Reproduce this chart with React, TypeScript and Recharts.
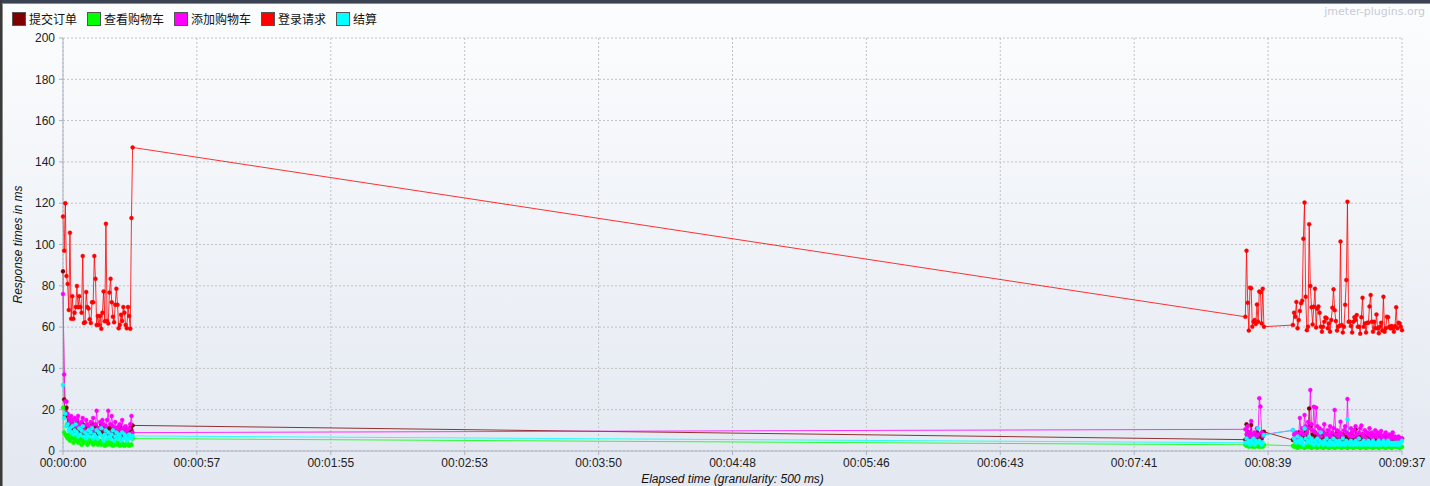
import { CartesianGrid, Line, LineChart, XAxis, YAxis } from 'recharts'

// elapsed-time buckets (ms): start of each run of samples, 500 ms granularity
const GRANULARITY_MS = 500
const clusterStarts = [0, 509500, 530000]

const xTicks = [0, 57700, 115400, 173100, 230800, 288500, 346200, 403900, 461600, 519300, 577000]
const yTicks = [0, 20, 40, 60, 80, 100, 120, 140, 160, 180, 200]

// 登录请求
const loginA = [
  113.5, 97, 120, 84.7, 80.9, 68.3, 105.7, 64, 75, 64,
  67, 69.7, 79.9, 69.6, 75, 69.7, 67, 94.4, 62, 62.3,
  77, 69.7, 69, 63.8, 62, 72, 72, 94.4, 83.4, 61,
  65.4, 61, 65.4, 59.2, 67, 77.3, 62.8, 110, 63, 61.8,
  76.7, 83.4, 72, 65, 62.3, 70.8, 78.6, 70.8, 59.4, 61,
  66, 63, 69.7, 67, 61, 59.4, 69.7, 65.4, 59.2, 112.8, 147,
]
const loginB = [65, 97, 71.8, 58.3, 79.1, 78.8, 60.2, 62.6, 63.4, 61.5, 70.9, 62.6, 77.2, 76.9, 61.8, 78.6, 60.2]
const loginC = [
  61, 67, 65, 72.2, 59.4, 63.4, 67.8, 71.5, 72.8, 102.8,
  120.3, 74.7, 58.5, 60.2, 109.8, 79.9, 69.6, 61.3, 69.9, 78.6,
  59.8, 68.9, 70, 67, 60.2, 57.8, 60.2, 62.6, 64.6, 64.3,
  59.4, 61.8, 57.8, 63.4, 69.4, 78.3, 68.2, 62.9, 58.3, 60.2,
  60.5, 101.4, 61, 57.4, 60.2, 70.8, 82.8, 120.7, 62.6, 62.6,
  60.5, 57.4, 62.6, 64.8, 63.4, 65.8, 60.2, 60.2, 56.8, 64.8,
  74.2, 60.2, 61.8, 57.4, 62.1, 62.1, 70, 75.5, 62.6, 57.8,
  62.6, 59.4, 66.1, 59.4, 57, 60.2, 62.1, 58.3, 74.7, 57.8,
  59.4, 65, 64.8, 60.2, 59.4, 60.5, 59.4, 57.8, 60.5, 69.6,
  59.4, 62.1, 61.8, 60.2, 58.5,
]

// 提交订单
const orderA = [
  87, 25, 17, 21, 13, 16, 12, 14, 11, 13,
  10, 12, 14, 11, 9, 12, 10, 13, 8, 11,
  9, 12, 10, 8, 11, 13, 9, 10, 12, 8,
  9, 11, 10, 13, 9, 8, 12, 10, 9, 11,
  8, 10, 12, 9, 7, 10, 11, 8, 9, 12,
  10, 7, 9, 11, 8, 10, 9, 7, 11, 10, 12.4,
]
const orderB = [5.5, 12.9, 8, 9, 6, 12.6, 7, 5, 8, 6, 9, 5, 8, 7, 6, 9, 9.3]
const orderC = [
  5.3, 6, 5, 7, 4, 9, 6, 5, 8, 7,
  6, 9, 5, 7, 20.6, 12, 6, 8, 5, 9,
  7, 6, 5, 8, 6, 7, 9, 5, 6, 8,
  5, 7, 6, 5, 8, 6, 7, 5, 9, 6,
  5, 7, 6, 8, 5, 6, 7, 5, 6, 8,
  5, 6, 7, 5, 10.5, 6, 5, 7, 6, 5,
  8, 6, 5, 7, 5, 6, 8, 5, 6, 7,
  5, 6, 5, 7, 6, 5, 6, 7, 5, 6,
  5, 7, 6, 5, 6, 5, 7, 5, 6, 5,
  6, 5, 6, 5, 6,
]

// 查看购物车
const viewA = [
  21, 9, 8, 7, 6, 8, 5, 6, 7, 4,
  6, 5, 7, 4, 5, 6, 3, 5, 4, 6,
  5, 3, 4, 6, 5, 4, 3, 5, 4, 6,
  3, 4, 5, 3, 4, 5, 2.5, 4, 3, 5,
  4, 3, 4, 2.5, 3, 5, 4, 3, 4, 2.5,
  3, 4, 3, 2.5, 3, 4, 3, 2.5, 3, 3, 6,
]
const viewB = [3, 2.5, 3, 2, 3, 2.5, 2, 3, 2, 2.5, 3, 2, 2.5, 2, 3, 2, 3]
const viewC = [
  2.5, 2, 3, 2, 1.5, 2, 2.5, 2, 3, 2,
  1.5, 2, 2.5, 2, 3, 2, 1.5, 2, 2, 2.5,
  2, 1.5, 2, 2.5, 2, 2, 1.5, 2, 2.5, 2,
  2, 1.5, 2, 2, 2.5, 2, 1.5, 2, 2, 2.5,
  2, 2, 1.5, 2, 2.5, 2, 2, 1.5, 2, 2,
  2.5, 2, 1.5, 2, 2, 2.5, 2, 2, 1.5, 2,
  2, 2.5, 2, 1.5, 2, 2, 2.5, 2, 2, 1.5,
  2, 2, 2.5, 2, 1.5, 2, 2, 2.5, 2, 2,
  1.5, 2, 2, 2.5, 2, 1.5, 2, 2, 2.5, 2,
  2, 2, 1.5, 2, 2,
]

// 添加购物车
const addA = [
  76, 37, 24, 24, 18, 16, 14, 17, 15, 13,
  16, 12, 15, 17, 13, 11, 14, 16, 12, 10,
  15, 13, 12, 11, 14, 12, 16, 10, 13, 19.5,
  11, 9, 14, 12, 15, 13, 10, 12, 15, 19.5,
  9, 13, 17, 12, 10, 14, 11, 9, 12, 13,
  10, 15, 11, 9, 12, 10, 8, 11, 13, 17, 8.9,
]
const addB = [10.5, 8, 12, 9, 7, 14.5, 8, 6, 9, 7, 11, 8, 25.5, 21.5, 9, 7, 8]
const addC = [
  10, 8, 7, 9, 6, 8, 16, 9, 11, 8,
  17.4, 12, 9, 14, 11, 29.5, 13, 10, 21.4, 9,
  21, 12, 8, 11, 7, 10, 9, 13, 8, 7,
  10, 8, 12, 7, 9, 11, 19.9, 8, 10, 7,
  9, 14.2, 8, 7, 10, 12, 9, 25.2, 8, 7,
  11, 9, 7, 10, 12, 8, 6, 9, 11, 12.3,
  8, 7, 10, 6, 9, 8, 11, 7, 9, 6,
  8, 10, 7, 9, 6, 8, 9.7, 7, 6, 8,
  9, 6, 7, 8, 6, 7, 9, 6, 7, 6,
  5, 7, 6, 5, 6,
]

// 结算
const payA = [
  32, 16, 18, 12, 13, 10, 11, 9, 12, 8,
  10, 13, 9, 7, 11, 8, 10, 12, 7, 9,
  6, 8, 10, 7, 9, 11, 6, 8, 7, 10,
  6, 9, 8, 11, 7, 5, 8, 10, 6, 9,
  7, 6, 8, 10, 5, 7, 9, 6, 8, 7,
  5, 9, 6, 8, 7, 5, 6, 8, 7, 6, 7.3,
]
const payB = [4, 6, 4, 5, 3, 5, 4, 6, 3, 5, 4, 11, 5, 4, 3, 4, 7.7]
const payC = [
  10.2, 6, 5, 4, 7, 5, 4, 6, 5, 3,
  11, 6, 4, 5, 7, 4, 6, 5, 3, 5,
  4, 6, 3, 5, 9, 4, 3, 5, 4, 6,
  3, 4, 5, 3, 4, 6, 3, 5, 4, 3,
  5, 4, 3, 6, 4, 3, 5, 15.3, 4, 3,
  5, 4, 3, 4, 5, 3, 4, 6, 3, 4,
  3, 5, 4, 3, 4, 5, 3, 4, 3, 5,
  4, 3, 4, 3, 5, 4, 3, 4, 5, 3,
  4, 3, 5, 4, 3, 4, 3, 4, 3, 4,
  3, 4, 3, 4, 5,
]

type Point = { t: number; v: number }

function toPoints(parts: number[][]): Point[] {
  const out: Point[] = []
  parts.forEach((vals, c) => {
    vals.forEach((v, i) => out.push({ t: clusterStarts[c] + i * GRANULARITY_MS, v }))
  })
  return out
}

const series = [
  { name: '提交订单', color: '#800000', data: toPoints([orderA, orderB, orderC]) },
  { name: '查看购物车', color: '#00ff00', data: toPoints([viewA, viewB, viewC]) },
  { name: '添加购物车', color: '#ff00ff', data: toPoints([addA, addB, addC]) },
  { name: '登录请求', color: '#ff0000', data: toPoints([loginA, loginB, loginC]) },
  { name: '结算', color: '#00ffff', data: toPoints([payA, payB, payC]) },
]

const pad = (n: number) => String(n).padStart(2, '0')
function fmtElapsed(ms: number) {
  const s = Math.floor(ms / 1000)
  return `${pad(Math.floor(s / 3600))}:${pad(Math.floor((s % 3600) / 60))}:${pad(s % 60)}`
}

const FONT = '"Liberation Sans", Arial, sans-serif'
const tickStyle = { fill: '#222', fontSize: 12, fontFamily: FONT }
const axisColor = '#aab2c2'

function YLabel({ viewBox }: any) {
  const cy = viewBox.y + viewBox.height / 2
  return (
    <text x={22} y={cy} transform={`rotate(-90, 22, ${cy})`} textAnchor="middle"
      style={{ fontSize: 12, fontStyle: 'italic', fontFamily: FONT, fill: '#111' }}>
      Response times in ms
    </text>
  )
}

export default function App() {
  return (
    <div
      style={{
        position: 'absolute', left: 0, top: 0, width: 1430, height: 486, overflow: 'hidden',
        background: 'linear-gradient(#fcfdfe, #e3e8f1)', fontFamily: FONT,
      }}
    >
      <div style={{ position: 'absolute', left: 0, top: 0, width: 1430, height: 3, background: '#3b4352' }} />
      <div style={{ position: 'absolute', left: 0, top: 3, width: 1430, height: 1, background: '#8c8c8c' }} />
      <div style={{ position: 'absolute', left: 0, top: 0, width: 2, height: 486, background: '#3a3a3a' }} />
      <div style={{ position: 'absolute', left: 2, top: 3, width: 1, height: 483, background: '#8c8c8c' }} />

      <div style={{ position: 'absolute', left: 12, top: 12, display: 'flex', alignItems: 'center', fontSize: 12, color: '#111' }}>
        {series.map((s) => (
          <div key={s.name} style={{ display: 'flex', alignItems: 'center', marginRight: 10 }}>
            <span style={{ width: 12, height: 12, background: s.color, border: '1px solid #555', marginRight: 3, display: 'inline-block' }} />
            <span style={{ fontFamily: '"Noto Sans CJK SC", sans-serif', lineHeight: '14px' }}>{s.name}</span>
          </div>
        ))}
      </div>

      <div style={{ position: 'absolute', right: 5, top: 5, fontSize: 11, color: '#c6cbd7', fontFamily: '"DejaVu Sans", sans-serif' }}>
        jmeter-plugins.org
      </div>

      <div style={{ position: 'absolute', left: 0, top: 0 }}>
        <LineChart width={1430} height={486} margin={{ top: 38, right: 28, bottom: 0, left: 0 }}>
          <CartesianGrid stroke="#c2c2c2" strokeDasharray="2 2" />
          <XAxis
            dataKey="t" type="number" domain={[0, 577000]} ticks={xTicks} tickFormatter={fmtElapsed}
            allowDuplicatedCategory={false} height={35} tickSize={4} tickMargin={3}
            stroke={axisColor} tick={tickStyle} interval={0}
            label={{ value: 'Elapsed time (granularity: 500 ms)', position: 'insideBottom', offset: 3,
              style: { fontSize: 12, fontStyle: 'italic', fontFamily: FONT, fill: '#111' } }}
          />
          <YAxis
            dataKey="v" type="number" domain={[0, 200]} ticks={yTicks} width={63} tickSize={4} tickMargin={4}
            stroke={axisColor} tick={tickStyle} interval={0} label={<YLabel />}
          />
          {series.map((s) => (
            <Line
              key={s.name} data={s.data} dataKey="v" name={s.name} type="linear"
              stroke={s.color} strokeWidth={1} strokeOpacity={0.8}
              dot={{ r: 2, fill: s.color, stroke: s.color, strokeWidth: 0.5 }}
              activeDot={false} isAnimationActive={false}
            />
          ))}
        </LineChart>
      </div>
    </div>
  )
}
